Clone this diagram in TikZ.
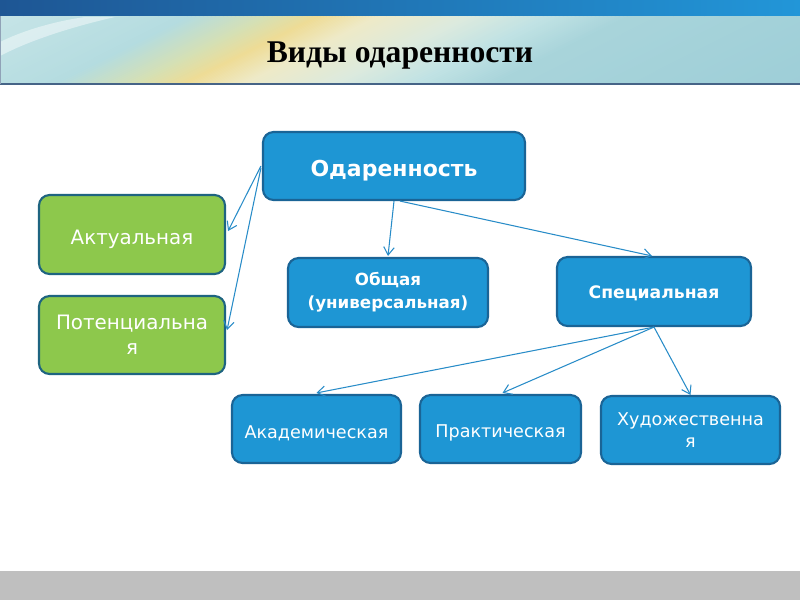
\documentclass[tikz,border=0pt]{standalone}
\usepackage{fontspec}
\setmainfont{DejaVu Sans}
\newfontfamily\titlefont{Liberation Serif}
\usetikzlibrary{arrows.meta,calc}
\definecolor{boxblue}{RGB}{30,150,212}
\definecolor{boxblueb}{RGB}{26,100,150}
\definecolor{boxgreen}{RGB}{141,200,76}
\definecolor{boxgreenb}{RGB}{30,100,128}
\definecolor{arrcol}{RGB}{40,140,200}
\definecolor{bardark}{RGB}{30,86,148}
\definecolor{barlight}{RGB}{34,150,216}
\definecolor{bA}{RGB}{198,228,231}
\definecolor{bB}{RGB}{180,220,224}
\definecolor{bG}{RGB}{214,224,180}
\definecolor{bY}{RGB}{238,220,150}
\definecolor{bC}{RGB}{238,234,200}
\definecolor{bP}{RGB}{220,234,222}
\definecolor{bL}{RGB}{192,226,228}
\definecolor{bT}{RGB}{168,212,218}
\definecolor{bT2}{RGB}{158,206,216}
\definecolor{bandline}{RGB}{70,100,135}
\newcommand{\lowr}[1]{\raisebox{-2.5pt}[\height][\depth]{#1}}
% slanted band strips: x at bottom edge, shifted 135 at top edge
\newcommand{\bandseg}[4]{%
  \foreach \i in {0,...,19}{%
    \pgfmathsetmacro{\xa}{#1+\i*(#2-#1)/20}%
    \pgfmathsetmacro{\xb}{#1+(\i+1)*(#2-#1)/20+1}%
    \pgfmathsetmacro{\pc}{\i*5}%
    \fill[#4!\pc!#3] (\xa,84) -- (\xb,84) -- (\xb+135,16) -- (\xa+135,16) -- cycle;
  }%
}
\tikzset{
  bluebox/.style={draw=boxblueb, fill=boxblue, line width=1.2pt, rounded corners=6pt, text=white, align=center, inner sep=0pt},
  greenbox/.style={draw=boxgreenb, fill=boxgreen, line width=1.2pt, rounded corners=6pt, text=white, align=center, inner sep=0pt},
  arr/.style={draw=arrcol, line width=0.6pt, -{Straight Barb[length=4.5pt,width=6pt]}},
}
\begin{document}
\begin{tikzpicture}[x=0.02cm,y=-0.02cm]
\useasboundingbox (0,0) rectangle (800,600);
\fill[white] (0,0) rectangle (800,600);
% top bar
\shade[left color=bardark, right color=barlight] (0,0) rectangle (800,16);
% band
\begin{scope}
\clip (0,16) rectangle (800,84);
\bandseg{-140}{53}{bA}{bB}
\bandseg{53}{133}{bB}{bG}
\bandseg{133}{183}{bG}{bY}
\bandseg{183}{243}{bY}{bC}
\bandseg{243}{333}{bC}{bP}
\bandseg{333}{413}{bP}{bL}
\bandseg{413}{493}{bL}{bT}
\bandseg{493}{800}{bT}{bT2}
\fill[white, opacity=0.45] (0,42) .. controls (20,32) and (50,22) .. (85,17) -- (115,17) .. controls (75,26) and (30,40) .. (0,56) -- cycle;
\end{scope}
\draw[bandline, line width=0.8pt] (0,84) -- (800,84);
\draw[bandline!60, line width=0.5pt] (0.5,16) -- (0.5,84);
\node (title) at (400,56) {\titlefont\bfseries\fontsize{18}{20}\selectfont Виды одаренности};
% bottom bar
\fill[black!25] (0,571) rectangle (800,600);
% boxes
\node[bluebox, minimum width=262*0.02cm, minimum height=68*0.02cm, font=\bfseries\fontsize{12.5}{14}\selectfont] (odar) at (394,166) {\lowr{Одаренность}};
\node[greenbox, minimum width=186*0.02cm, minimum height=79*0.02cm, font=\fontsize{11.3}{14}\selectfont] (akt) at (132,234.5) {\lowr{Актуальная}};
\node[greenbox, minimum width=186*0.02cm, minimum height=78*0.02cm, font=\fontsize{11.3}{14}\selectfont] (pot) at (132,335) {Потенциальна\\я};
\node[bluebox, minimum width=200*0.02cm, minimum height=69*0.02cm, font=\bfseries\fontsize{9.5}{13}\selectfont] (ob) at (388,292.5) {Общая\\(универсальная)};
\node[bluebox, minimum width=194*0.02cm, minimum height=69*0.02cm, font=\bfseries\fontsize{9.8}{13}\selectfont] (spec) at (654,291.5) {\raisebox{-1pt}[\height][\depth]{Специальная}};
\node[bluebox, minimum width=169*0.02cm, minimum height=68*0.02cm, font=\fontsize{10}{12.5}\selectfont] (akad) at (316.5,429) {\lowr{Академическая}};
\node[bluebox, minimum width=161*0.02cm, minimum height=68*0.02cm, font=\fontsize{10}{12.5}\selectfont] (prakt) at (500.5,429) {\lowr{Практическая}};
\node[bluebox, minimum width=179*0.02cm, minimum height=68*0.02cm, font=\fontsize{10}{13}\selectfont] (hud) at (690.5,430) {Художественна\\я};
% connectors
\draw[arr] ($(odar.west)+(-1,0)$) -- ($(akt.east)+(2,-3.5)$);
\draw[arr] ($(odar.west)+(-1,2)$) -- ($(pot.east)+(1,-5)$);
\draw[arr] (odar.south) -- ($(ob.north)+(0,-1)$);
\draw[arr] ($(odar.south)+(6,0)$) -- ($(spec.north)+(-2,0)$);
\draw[arr] (spec.south) -- ($(akad.north)+(0,-1)$);
\draw[arr] (spec.south) -- ($(prakt.north)+(2,-1)$);
\draw[arr] (spec.south) -- (hud.north);
\end{tikzpicture}
\end{document}
